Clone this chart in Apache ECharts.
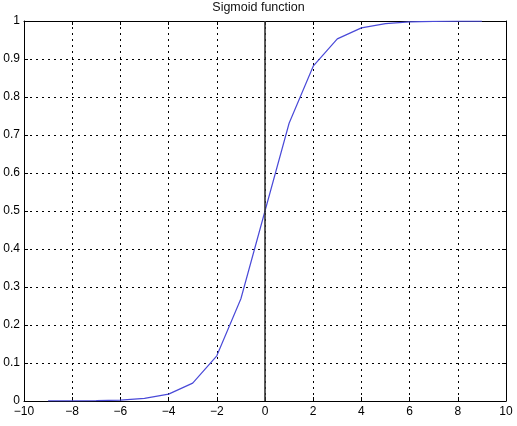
<!DOCTYPE html>
<html><head><meta charset="utf-8">
<script src="https://cdn.jsdelivr.net/npm/echarts@6/dist/echarts.min.js"></script>
<style>html,body{margin:0;padding:0;background:#fff}#c{width:517px;height:426px}</style>
</head><body><div id="c"></div>
<script>
const xValues = [-9,-8,-7,-6,-5,-4,-3,-2,-1,0,1,2,3,4,5,6,7,8,9];
const yValues = [0.0001,0.0003,0.0009,0.0025,0.0067,0.018,0.047,0.119,0.269,0.5,0.731,0.881,0.953,0.982,0.993,0.9975,0.9991,0.9997,0.9999];
const titleText = 'Sigmoid function';
const font = 'Liberation Sans, Arial, Helvetica, sans-serif';
const fmtMinus = v => v < 0 ? '\u2212' + (-v) : String(v);
const chart = echarts.init(document.getElementById('c'));
chart.setOption({
  animation:false,
  title:{text:titleText,left:'center',top:-4,textStyle:{fontFamily:font,fontSize:12.5,fontWeight:'normal',color:'#111'}},
  grid:{left:24,right:11,top:21,bottom:25,containLabel:false},
  xAxis:[
    {type:'value',min:-10,max:10,interval:2,position:'bottom',
     axisLine:{show:true,onZero:false,lineStyle:{color:'#000',width:1}},
     axisTick:{show:true,inside:true,length:4,lineStyle:{color:'#000'}},
     axisLabel:{color:'#000',fontFamily:font,fontSize:12,margin:5,formatter:fmtMinus},
     splitLine:{show:true,lineStyle:{color:'#000',type:[2,4],width:1}}},
    {type:'value',min:-10,max:10,interval:2,position:'top',
     axisLine:{show:true,onZero:false,lineStyle:{color:'#000',width:1}},
     axisTick:{show:true,inside:true,length:4,lineStyle:{color:'#000'}},
     axisLabel:{show:false},splitLine:{show:false}}
  ],
  yAxis:[
    {type:'value',min:0,max:1,interval:0.1,position:'left',
     axisLine:{show:true,onZero:false,lineStyle:{color:'#000',width:1}},
     axisTick:{show:true,inside:true,length:4,lineStyle:{color:'#000'}},
     axisLabel:{color:'#000',fontFamily:font,fontSize:12,margin:4,formatter:v=>String(Math.round(v*10)/10)},
     splitLine:{show:true,lineStyle:{color:'#000',type:[2,4],width:1}}},
    {type:'value',min:0,max:1,interval:0.1,position:'right',
     axisLine:{show:true,onZero:false,lineStyle:{color:'#000',width:1}},
     axisTick:{show:true,inside:true,length:4,lineStyle:{color:'#000'}},
     axisLabel:{show:false},splitLine:{show:false}}
  ],
  series:[{
    type:'line',data:xValues.map((x,i)=>[x,yValues[i]]),
    showSymbol:false,symbol:'none',
    lineStyle:{color:'#4a4ad8',width:1.2},
    markLine:{silent:true,symbol:'none',label:{show:false},
      lineStyle:{color:'#333',width:1.6,type:'solid'},
      data:[{xAxis:0}]}
  }]
});
</script></body></html>
